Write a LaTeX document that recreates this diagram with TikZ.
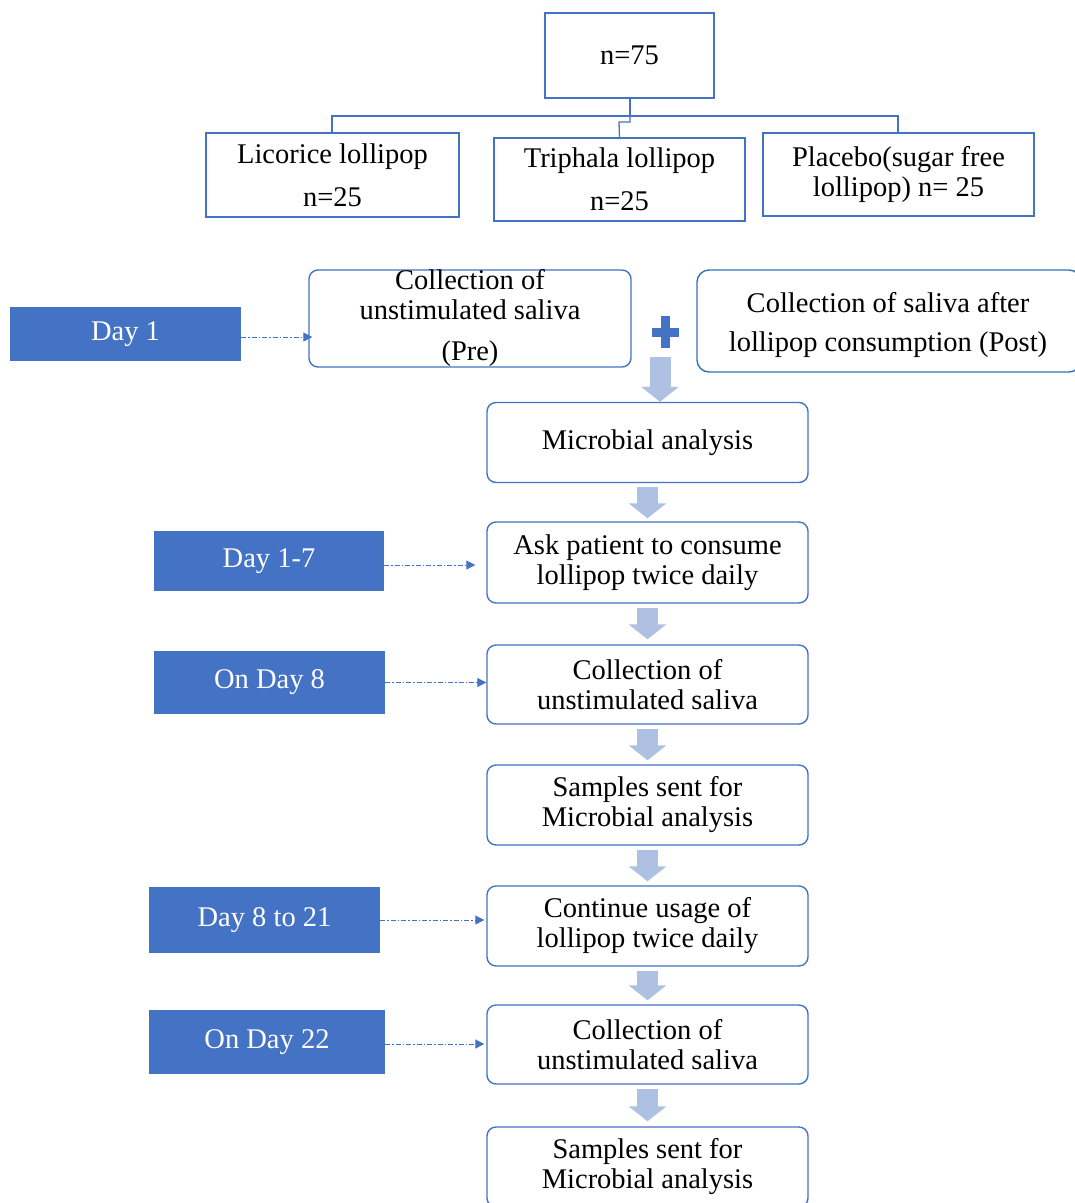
\documentclass[tikz,border=0pt]{standalone}
\usepackage{fontspec}
\setmainfont{Liberation Serif}
\usetikzlibrary{arrows.meta}
\definecolor{bblue}{HTML}{4472C4}
\definecolor{pblue}{HTML}{2E75B6}
\definecolor{lblue}{HTML}{AFC1E3}
\tikzset{
  every node/.style={font=\fontsize{28.5}{30}\selectfont, align=center, inner sep=0pt},
  sqbox/.style={draw=bblue, line width=1.4pt, fill=white},
  rbox/.style={draw=bblue, line width=1.4pt, rounded corners=9pt, fill=white, minimum width=321pt, minimum height=80pt},
  daybox/.style={fill=bblue, text=white, minimum width=231pt},
  tree/.style={draw=bblue, line width=1.3pt},
  dotarrow/.style={draw=bblue, line width=1pt, dash pattern=on 5pt off 2pt on 1.5pt off 2pt, -{Triangle[length=9pt,width=9pt]}},
  blockarrow/.style={draw=lblue, line width=21pt, -{Triangle[length=15pt,width=37pt]}}
}
\begin{document}
\begin{tikzpicture}[x=1pt,y=-1pt]
\useasboundingbox (0,0) rectangle (1075,1203);
% top tree
\node[sqbox, minimum width=169pt, minimum height=85pt] (n75) at (629.5,55.5) {n=75};
\node[sqbox, minimum width=253pt, minimum height=84pt] (lic) at (332.5,175) {Licorice lollipop\\[13pt]n=25};
\node[sqbox, minimum width=251pt, minimum height=83pt] (tri) at (619.5,179.5) {Triphala lollipop\\[13pt]n=25};
\node[sqbox, minimum width=271pt, minimum height=83pt] (pla) at (898.5,174.5) {Placebo(sugar free\\lollipop) n= 25};
\coordinate (hl) at (332,116);
\coordinate (hr) at (898,116);
\draw[tree] (n75.south -| 630,0) -- (630,116);
\draw[tree] (lic.north -| hl) -- (hl) -- (hr) -- (pla.north -| hr);
\draw[tree] (630,116) -- (630,122) -- (619,122) -- (tri.north);
% day 1
\node[daybox, minimum height=54pt] (day1) at (125.5,334) {Day 1};
\node[draw=bblue, line width=1.4pt, rounded corners=9pt, minimum width=322pt, minimum height=97pt] (pre) at (470,318.5) {};
\node (pretxt) at (470,318) {Collection of\\unstimulated saliva\\[11pt](Pre)};
\node[draw=pblue, line width=1.4pt, rounded corners=12pt, minimum width=384pt, minimum height=102pt] (post) at (889,321) {};
\node (posttxt) at (888,325) {Collection of saliva after\\[9pt]lollipop consumption (Post)};
\coordinate (d1end) at (pre.west |- 0,337);
\draw[dotarrow, shorten >=-4pt] (day1.east |- d1end) -- (d1end);
% plus sign
\fill[bblue] (661,316) rectangle (670,348);
\fill[bblue] (652,327.5) rectangle (679,336.5);
\coordinate (plusbot) at (660,357);
% main column
\node[rbox] (micro) at (647.5,442.5) {Microbial analysis};
\node[rbox, minimum height=81pt] (ask) at (647.5,562.5) {Ask patient to consume\\lollipop twice daily};
\node[rbox, minimum height=79pt] (coll1) at (647.5,684.5) {Collection of\\unstimulated saliva};
\node[rbox] (samp1) at (647.5,805) {Samples sent for\\Microbial analysis};
\node[rbox] (cont) at (647.5,926) {Continue usage of\\lollipop twice daily};
\node[rbox, minimum height=79pt] (coll2) at (647.5,1044.5) {Collection of\\unstimulated saliva};
\node[rbox] (samp2) at (647.5,1167) {Samples sent for\\Microbial analysis};
% block arrows
\draw[blockarrow] (plusbot) -- (micro.north -| plusbot);
\draw[blockarrow, shorten <=4pt, shorten >=3pt] (micro.south) -- (ask.north);
\draw[blockarrow, shorten <=4pt, shorten >=5pt] (ask.south) -- (coll1.north);
\draw[blockarrow, shorten <=4pt, shorten >=4pt] (coll1.south) -- (samp1.north);
\draw[blockarrow, shorten <=4pt, shorten >=4pt] (samp1.south) -- (cont.north);
\draw[blockarrow, shorten <=4pt, shorten >=4pt] (cont.south) -- (coll2.north);
\draw[blockarrow, shorten <=4pt, shorten >=5pt] (coll2.south) -- (samp2.north);
% day boxes
\node[daybox, minimum width=230pt, minimum height=60pt] (d17) at (269,561) {Day 1-7};
\node[daybox, minimum height=63pt] (d8) at (269.5,682.5) {On Day 8};
\node[daybox, minimum height=66pt] (d821) at (264.5,920) {Day 8 to 21};
\node[daybox, minimum width=236pt, minimum height=64pt] (d22) at (267,1042) {On Day 22};
\draw[dotarrow, shorten >=11pt] (d17.east |- 0,565) -- (ask.west |- 0,565);
\draw[dotarrow] (d8.east) -- (d8.east -| coll1.west);
\draw[dotarrow, shorten >=2pt] (d821.east) -- (d821.east -| cont.west);
\draw[dotarrow, shorten >=2pt] (d22.east |- 0,1044) -- (coll2.west |- 0,1044);
\end{tikzpicture}
\end{document}
